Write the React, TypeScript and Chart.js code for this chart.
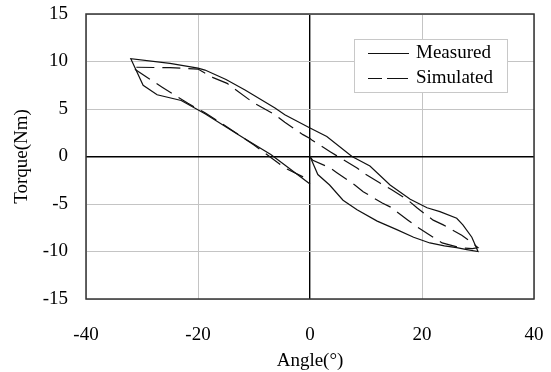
import React, { useEffect, useRef } from "react";
import { Chart, registerables } from "chart.js";

Chart.register(...registerables);

const xTickStep = 20;
const yTickStep = 5;

const measuredAngle = [
  0, 1.4, 3.5, 5.9, 8.4, 12, 15.5, 18.5, 21.4, 24, 26.2, 28, 30,
  28.9, 27.3, 26.2, 23.2, 20.9, 17.9, 14.3, 10.7, 7.5, 3, 0,
  -4.5, -6.25, -11.6, -15, -18.75, -20, -25, -32,
  -29.8, -27.3, -23, -18.75, -12, -7, -4.5, 0,
];
const measuredTorque = [
  0, -1.9, -3.0, -4.6, -5.6, -6.8, -7.7, -8.5, -9.1, -9.4, -9.6, -9.8, -10,
  -8.5, -7.2, -6.5, -5.8, -5.4, -4.5, -3.0, -1.0, 0, 2.1, 3.0,
  4.4, 5.1, 7.0, 8.1, 9.1, 9.3, 9.8, 10.3,
  7.5, 6.5, 5.9, 4.5, 2.0, 0.2, -0.9, -2.9,
];

const simulatedAngle = [
  0, 0.5, 3.6, 4.8, 8, 9.5, 12.9, 14.3, 17.5, 19.1, 22, 23.6, 26.8, 29, 30,
  29, 27.1, 23.8, 22, 19.1, 17.5, 14.6, 12.5, 9.5, 8.4, 5, 3.6, 0.4, 0,
  -1.25, -4.5, -6.25, -10.2, -14.8, -17.3, -20, -25, -31.8,
  -29.8, -26.4, -21.8, -18.75, -14, -10, -4.5, 0,
];
const simulatedTorque = [
  0, -0.4, -1.2, -1.7, -3.0, -3.7, -4.9, -5.3, -6.7, -7.4, -8.5, -9.1, -9.6, -9.7, -9.6,
  -9.1, -8.3, -7.2, -6.7, -5.4, -4.6, -3.5, -2.8, -1.7, -1.2, 0, 0.5, 1.7, 1.9,
  2.3, 3.6, 4.4, 5.7, 7.7, 8.3, 9.2, 9.35, 9.4,
  8.6, 7.3, 5.6, 4.6, 2.8, 1.2, -1.2, -2.5,
];

const seriesNames = ["Measured", "Simulated"];
const xTitle = "Angle(°)";
const yTitle = "Torque(Nm)";

const FONT_FAMILY = "'Liberation Serif', 'Times New Roman', serif";

const framePlugin = {
  id: "frameAndLegend",
  afterDraw(chart: any) {
    const { ctx, chartArea } = chart;
    ctx.save();
    // plot frame
    ctx.strokeStyle = "#333";
    ctx.lineWidth = 1.5;
    ctx.setLineDash([]);
    ctx.strokeRect(
      chartArea.left,
      chartArea.top,
      chartArea.right - chartArea.left,
      chartArea.bottom - chartArea.top
    );
    // legend box
    const bx = 354.5, by = 39.5, bw = 153, bh = 53;
    ctx.fillStyle = "#fff";
    ctx.fillRect(bx, by, bw, bh);
    ctx.strokeStyle = "#c8c8c8";
    ctx.lineWidth = 1;
    ctx.strokeRect(bx, by, bw, bh);
    const rows = [53, 78];
    chart.data.datasets.forEach((ds: any, i: number) => {
      const y = rows[i] + 0.5;
      ctx.strokeStyle = ds.borderColor;
      ctx.lineWidth = ds.borderWidth;
      ctx.beginPath();
      if (ds.borderDash && ds.borderDash.length) {
        ctx.moveTo(368, y);
        ctx.lineTo(382, y);
        ctx.moveTo(387, y);
        ctx.lineTo(408, y);
      } else {
        ctx.moveTo(368, y);
        ctx.lineTo(409, y);
      }
      ctx.stroke();
      ctx.fillStyle = "#000";
      ctx.font = `19px ${FONT_FAMILY}`;
      ctx.textBaseline = "middle";
      ctx.textAlign = "left";
      ctx.fillText(ds.label, 416, rows[i]);
    });
    ctx.restore();
  },
};

export default function App() {
  const ref = useRef<HTMLCanvasElement>(null);
  useEffect(() => {
    document.body.style.margin = "0";
    const font = { family: FONT_FAMILY, size: 19 };
    const gridColor = (c: any) => (c.tick && c.tick.value === 0 ? "#000" : "#c4c4c4");
    const gridWidth = (c: any) => (c.tick && c.tick.value === 0 ? 1.4 : 1);
    const chart = new Chart(ref.current as HTMLCanvasElement, {
      type: "scatter",
      data: {
        datasets: [
          {
            label: seriesNames[0],
            data: measuredAngle.map((x, i) => ({ x, y: measuredTorque[i] })),
            showLine: true,
            borderColor: "#111",
            borderWidth: 1.2,
            pointRadius: 0,
            fill: false,
            tension: 0,
          },
          {
            label: seriesNames[1],
            data: simulatedAngle.map((x, i) => ({ x, y: simulatedTorque[i] })),
            showLine: true,
            borderColor: "#111",
            borderWidth: 1.2,
            borderDash: [18, 8],
            pointRadius: 0,
            fill: false,
            tension: 0,
          },
        ],
      },
      options: {
        animation: false,
        responsive: false,
        maintainAspectRatio: false,
        layout: { padding: { top: 14, right: 17, left: 0, bottom: 0 } },
        plugins: { legend: { display: false }, tooltip: { enabled: false } },
        scales: {
          x: {
            type: "linear",
            min: -40,
            max: 40,
            ticks: { stepSize: xTickStep, color: "#000", font, padding: 25 },
            grid: { color: gridColor, lineWidth: gridWidth, drawTicks: false },
            border: { display: false },
            title: {
              display: true,
              text: xTitle,
              color: "#000",
              font,
              padding: { top: 0, bottom: 0 },
            },
            afterFit: (s: any) => {
              s.height = 73;
              s.paddingLeft = 0;
              s.paddingRight = 0;
            },
          },
          y: {
            type: "linear",
            min: -15,
            max: 15,
            ticks: { stepSize: yTickStep, color: "#000", font, padding: 18 },
            grid: { color: gridColor, lineWidth: gridWidth, drawTicks: false },
            border: { display: false },
            title: {
              display: true,
              text: yTitle,
              color: "#000",
              font,
              padding: { top: 10.6, bottom: 0 },
            },
            afterFit: (s: any) => {
              s.width = 86;
              s.paddingTop = 0;
              s.paddingBottom = 0;
            },
          },
        },
      } as any,
      plugins: [framePlugin],
    });
    return () => chart.destroy();
  }, []);
  return (
    <div style={{ position: "absolute", left: 0, top: 0, width: 551, height: 372, background: "#fff" }}>
      <canvas ref={ref} width={551} height={372} style={{ width: 551, height: 372, display: "block" }} />
    </div>
  );
}
